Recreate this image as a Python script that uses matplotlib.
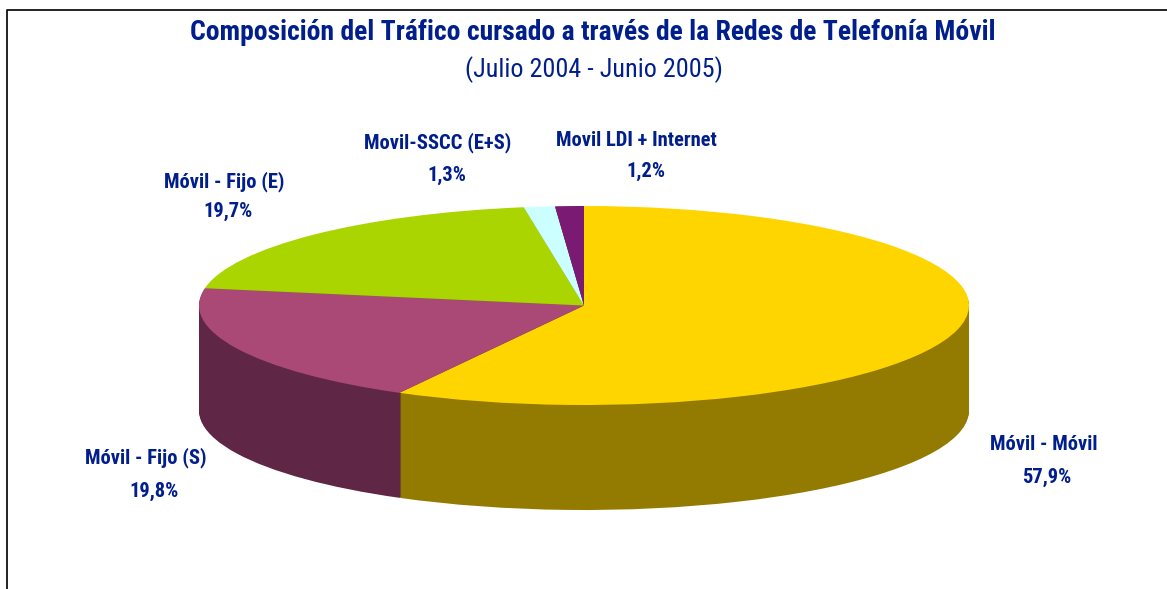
import matplotlib
matplotlib.use('Agg')
import matplotlib.pyplot as plt
import numpy as np

labels = ['Móvil - Móvil', 'Móvil - Fijo (S)', 'Móvil - Fijo (E)', 'Movil-SSCC (E+S)', 'Movil LDI + Internet']
values = [57.9, 19.8, 19.7, 1.3, 1.2]
pct_text = ['57,9%', '19,8%', '19,7%', '1,3%', '1,2%']
top_colors = ['#FFD500', '#AA4876', '#AAD500', '#CCFFFF', '#7A1A72']
side_colors = ['#937A00', '#602645', '#6A8500', '#80A0A0', '#4C1047']

W, H = 1167, 589
cx, cy, rx, ry = 584, 305.5, 385, 99.5
depth = 105
navy = '#001E8C'
fname = ['Roboto Condensed', 'Liberation Sans']

# label centre positions in pixels
name_x = [1044, 146, 224, 438, 636]
name_y = [444, 458, 182, 143, 140]
pct_x = [1047, 154, 228, 447, 646]
pct_y = [477, 491, 211, 175, 171]

fig = plt.figure(figsize=(W / 100, H / 100), dpi=100)
ax = fig.add_axes([0, 0, 1, 1])

# extrude the pie by stacking copies downward, top face last
for d in np.arange(depth, 0, -1):
    ax.pie(values, colors=side_colors, startangle=90, counterclock=False,
           center=(0, -d / ry), radius=1, wedgeprops={'linewidth': 0})
ax.pie(values, colors=top_colors, startangle=90, counterclock=False,
       center=(0, 0), radius=1, wedgeprops={'linewidth': 0})

ax.set_aspect('auto')
ax.set_xlim(-cx / rx, (W - cx) / rx)
ax.set_ylim((cy - H) / ry, cy / ry)
ax.set_xticks([])
ax.set_yticks([])
ax.set_frame_on(False)


def px(x, y):
    return x / W, 1 - y / H


fig.text(*px(593, 32), 'Composición del Tráfico cursado a través de la Redes de Telefonía Móvil',
         family=fname, weight='bold', color=navy, fontsize=19.9, ha='center', va='center')
fig.text(*px(594, 70), '(Julio 2004 - Junio 2005)', family=fname, color=navy,
         fontsize=18.8, ha='center', va='center')

for i in range(len(labels)):
    fig.text(*px(name_x[i], name_y[i]), labels[i], family=fname, weight='bold',
             color=navy, fontsize=14.8, ha='center', va='center')
    fig.text(*px(pct_x[i], pct_y[i]), pct_text[i], family=fname, weight='bold',
             color=navy, fontsize=14.8, ha='center', va='center')

# chart area border, only top and left show in the crop
border_x = [7, 7, 1167]
border_y = [589, 9.5, 9.5]
fig.add_artist(plt.Line2D([x / W for x in border_x], [1 - y / H for y in border_y],
                          color='#111111', linewidth=1.3))

plt.savefig('out.png', dpi=100)
